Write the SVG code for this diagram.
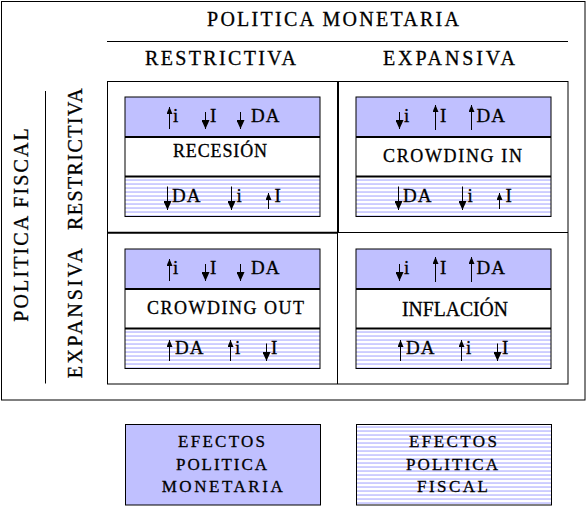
<svg xmlns="http://www.w3.org/2000/svg" width="588" height="507" viewBox="0 0 588 507">
<style>
text{font-family:"Liberation Serif","Times New Roman",serif;fill:#000;stroke:#000;stroke-width:0.3px}
.h{font-size:20px}
.b{font-size:19px}
.da{font-size:19px;letter-spacing:1px}
.l{font-size:18px}
.g{font-size:17px}
.box{fill:none;stroke:#000;stroke-width:1}
.div{stroke:#000;stroke-width:2}
.pm{fill:#c0c0ff}
.pf{fill:url(#stripes)}
.ln{stroke:#000;stroke-width:1;fill:none}
.up{stroke:#000;stroke-width:1;marker-end:url(#hu)}
.dn{stroke:#000;stroke-width:1;marker-end:url(#hd)}
</style>
<defs>
<pattern id="stripes" patternUnits="userSpaceOnUse" width="4" height="4">
<rect width="4" height="4" fill="#fff"/>
<rect y="2.3" width="4" height="1.5" fill="#c0c0ff"/>
</pattern>
<marker id="hu" markerUnits="userSpaceOnUse" viewBox="0 0 7 6" markerWidth="7" markerHeight="6" refX="7" refY="3" orient="auto">
<path d="M0,0 L7,3 L0,6 z" fill="#000"/>
</marker>
<marker id="hd" markerUnits="userSpaceOnUse" viewBox="0 0 9 8" markerWidth="9" markerHeight="8" refX="9" refY="4" orient="auto">
<path d="M0,0 L9,4 L0,8 z" fill="#000"/>
</marker>
</defs>
<rect width="588" height="507" fill="#fff"/>

<g id="frame">
<rect class="box" x="1.5" y="1.5" width="583.5" height="398.5"/>
<line class="ln" x1="107" y1="41.5" x2="568" y2="41.5"/>
<line class="ln" x1="45.5" y1="91" x2="45.5" y2="383.5"/>
<rect class="box" x="107.5" y="81.5" width="460.5" height="302.5"/>
<line class="div" x1="338" y1="81.5" x2="338" y2="233"/>
<line class="ln" x1="337.5" y1="233" x2="337.5" y2="384"/>
<line class="div" x1="107.5" y1="232.8" x2="338" y2="232.8"/>
<line class="ln" x1="338" y1="232.5" x2="568" y2="232.5"/>
</g>

<g id="headers">
<text class="h" x="207" y="26" textLength="252" lengthAdjust="spacing">POLITICA MONETARIA</text>
<text class="h" x="145" y="65" textLength="151" lengthAdjust="spacing">RESTRICTIVA</text>
<text class="h" x="383" y="65" textLength="132" lengthAdjust="spacing">EXPANSIVA</text>
<text class="h" transform="translate(28.3,321.7) rotate(-90)" x="0" y="0" textLength="193.4" lengthAdjust="spacing">POLITICA FISCAL</text>
<text class="h" transform="translate(81.7,230) rotate(-90)" x="0" y="0" textLength="141.7" lengthAdjust="spacing">RESTRICTIVA</text>
<text class="h" transform="translate(81.7,378.3) rotate(-90)" x="0" y="0" textLength="130" lengthAdjust="spacing">EXPANSIVA</text>
</g>

<g id="cell-recesion" transform="translate(125,97)">
<rect class="pm" x="0" y="0" width="195" height="40"/>
<rect fill="#fff" x="0" y="40" width="195" height="39.5"/>
<rect class="pf" x="0" y="79.5" width="195" height="40"/>
<line class="up" x1="44.5" y1="32" x2="44.5" y2="10"/>
<text class="b" x="48" y="25">i</text>
<line class="dn" x1="80.5" y1="15" x2="80.5" y2="32"/>
<text class="b" x="85" y="25">I</text>
<line class="dn" x1="115.5" y1="15" x2="115.5" y2="32"/>
<text class="da" x="126" y="25">DA</text>
<text class="l" x="48" y="60" textLength="94" lengthAdjust="spacing">RECESIÓN</text>
<line class="dn" x1="42.5" y1="89.5" x2="42.5" y2="113"/>
<text class="da" x="47" y="104.5">DA</text>
<line class="dn" x1="106.5" y1="89.5" x2="106.5" y2="113"/>
<text class="b" x="111.5" y="104.5">i</text>
<line class="up" x1="143.5" y1="112" x2="143.5" y2="96"/>
<text class="b" x="149.5" y="104.5">I</text>
<line class="div" x1="0" y1="40" x2="195" y2="40"/>
<line class="div" x1="0" y1="79.5" x2="195" y2="79.5"/>
<rect class="box" x="0" y="0" width="195" height="119.5"/>
</g>

<g id="cell-crowding-in" transform="translate(356,97)">
<rect class="pm" x="0" y="0" width="195" height="40"/>
<rect fill="#fff" x="0" y="40" width="195" height="39.5"/>
<rect class="pf" x="0" y="79.5" width="195" height="40"/>
<line class="dn" x1="43.5" y1="15" x2="43.5" y2="32"/>
<text class="b" x="48" y="25">i</text>
<line class="up" x1="79.5" y1="33" x2="79.5" y2="8"/>
<text class="b" x="84" y="25">I</text>
<line class="up" x1="115.5" y1="33" x2="115.5" y2="8"/>
<text class="da" x="120.5" y="25">DA</text>
<text class="l" x="27" y="64.5" textLength="139" lengthAdjust="spacing">CROWDING IN</text>
<line class="dn" x1="42.5" y1="89.5" x2="42.5" y2="113"/>
<text class="da" x="47" y="104.5">DA</text>
<line class="dn" x1="106.5" y1="89.5" x2="106.5" y2="113"/>
<text class="b" x="111.5" y="104.5">i</text>
<line class="up" x1="143.5" y1="112" x2="143.5" y2="96"/>
<text class="b" x="149.5" y="104.5">I</text>
<line class="div" x1="0" y1="40" x2="195" y2="40"/>
<line class="div" x1="0" y1="79.5" x2="195" y2="79.5"/>
<rect class="box" x="0" y="0" width="195" height="119.5"/>
</g>

<g id="cell-crowding-out" transform="translate(125,249)">
<rect class="pm" x="0" y="0" width="195" height="40"/>
<rect fill="#fff" x="0" y="40" width="195" height="39.5"/>
<rect class="pf" x="0" y="79.5" width="195" height="40"/>
<line class="up" x1="44.5" y1="32" x2="44.5" y2="10"/>
<text class="b" x="48" y="25">i</text>
<line class="dn" x1="80.5" y1="15" x2="80.5" y2="32"/>
<text class="b" x="85" y="25">I</text>
<line class="dn" x1="115.5" y1="15" x2="115.5" y2="32"/>
<text class="da" x="126" y="25">DA</text>
<text class="l" x="22" y="65" textLength="157" lengthAdjust="spacing">CROWDING OUT</text>
<line class="up" x1="44.5" y1="112" x2="44.5" y2="91"/>
<text class="da" x="50" y="104.5">DA</text>
<line class="up" x1="105.5" y1="112" x2="105.5" y2="91"/>
<text class="b" x="110" y="104.5">i</text>
<line class="dn" x1="141.5" y1="94.5" x2="141.5" y2="112"/>
<text class="b" x="146" y="104.5">I</text>
<line class="div" x1="0" y1="40" x2="195" y2="40"/>
<line class="div" x1="0" y1="79.5" x2="195" y2="79.5"/>
<rect class="box" x="0" y="0" width="195" height="119.5"/>
</g>

<g id="cell-inflacion" transform="translate(356,249)">
<rect class="pm" x="0" y="0" width="195" height="40"/>
<rect fill="#fff" x="0" y="40" width="195" height="39.5"/>
<rect class="pf" x="0" y="79.5" width="195" height="40"/>
<line class="dn" x1="43.5" y1="15" x2="43.5" y2="32"/>
<text class="b" x="48" y="25">i</text>
<line class="up" x1="79.5" y1="33" x2="79.5" y2="8"/>
<text class="b" x="84" y="25">I</text>
<line class="up" x1="115.5" y1="33" x2="115.5" y2="8"/>
<text class="da" x="120.5" y="25">DA</text>
<text x="46" y="67" font-size="20" textLength="106" lengthAdjust="spacingAndGlyphs">INFLACIÓN</text>
<line class="up" x1="44.5" y1="112" x2="44.5" y2="91"/>
<text class="da" x="50" y="104.5">DA</text>
<line class="up" x1="105.5" y1="112" x2="105.5" y2="91"/>
<text class="b" x="110" y="104.5">i</text>
<line class="dn" x1="141.5" y1="94.5" x2="141.5" y2="112"/>
<text class="b" x="146" y="104.5">I</text>
<line class="div" x1="0" y1="40" x2="195" y2="40"/>
<line class="div" x1="0" y1="79.5" x2="195" y2="79.5"/>
<rect class="box" x="0" y="0" width="195" height="119.5"/>
</g>

<g id="legend-monetaria">
<rect class="pm" x="125.5" y="424.5" width="195" height="80.5"/>
<rect class="box" x="125.5" y="424.5" width="195" height="80.5"/>
<text class="g" x="178" y="446.7" textLength="87" lengthAdjust="spacing">EFECTOS</text>
<text class="g" x="176" y="470" textLength="91" lengthAdjust="spacing">POLITICA</text>
<text class="g" x="161.7" y="491.7" textLength="121" lengthAdjust="spacing">MONETARIA</text>
</g>

<g id="legend-fiscal">
<rect class="pf" x="356.5" y="424.5" width="195" height="80.5"/>
<rect class="box" x="356.5" y="424.5" width="195" height="80.5"/>
<text class="g" x="409" y="446.7" textLength="88" lengthAdjust="spacing">EFECTOS</text>
<text class="g" x="406" y="470" textLength="92" lengthAdjust="spacing">POLITICA</text>
<text class="g" x="417" y="491.7" textLength="71" lengthAdjust="spacing">FISCAL</text>
</g>
</svg>
